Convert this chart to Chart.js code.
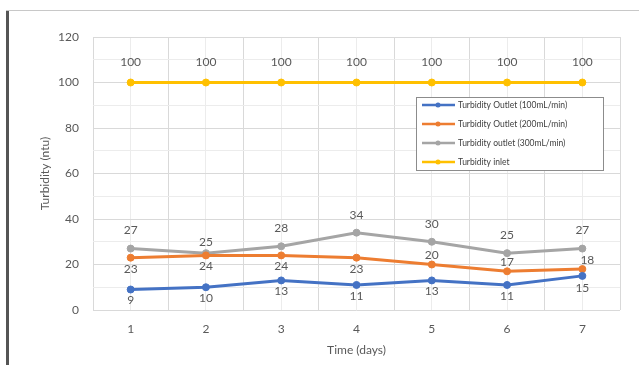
<!DOCTYPE html>
<html lang="en">
<head>
  <meta charset="UTF-8">
  <title>Turbidity</title>
  <script src="https://cdn.jsdelivr.net/npm/chart.js"></script>
  <style>
    html, body { margin: 0; padding: 0; background: #fff; }
    .frame { position: relative; width: 639px; height: 365px; overflow: hidden; }
    .edge { position: absolute; left: 6px; top: 10px; bottom: 0; width: 3px; background: #555; }
    .topline { position: absolute; left: 6px; right: 0; top: 10px; height: 1px; background: #c8c8c8; }
    canvas { position: absolute; left: 0; top: 0; }
  </style>
</head>
<body>
  <div class="frame">
    <canvas id="chart" width="639" height="365"></canvas>
    <div class="edge"></div>
    <div class="topline"></div>
  </div>

  <script>
    const days = [1, 2, 3, 4, 5, 6, 7];
    const outlet100 = [9, 10, 13, 11, 13, 11, 15];
    const outlet200 = [23, 24, 24, 23, 20, 17, 18];
    const outlet300 = [27, 25, 28, 34, 30, 25, 27];
    const inlet = [100, 100, 100, 100, 100, 100, 100];
    const seriesNames = ['Turbidity Outlet (100mL/min)', 'Turbidity Outlet (200mL/min)', 'Turbidity outlet (300mL/min)', 'Turbidity inlet'];

    const txt = '#595959';
    const fam = 'Lato, "Liberation Sans", sans-serif';

    function pts(vals) {
      return vals.map((v, i) => ({ x: days[i], y: v }));
    }

    // label offsets in px (negative = above the point)
    const labelOffsets = [
      [11, 11, 11, 11, 11, 11, 12],
      [11, 11, 11, 11, -9, -9, -9],
      [-18, -11, -18, -18, -18, -18, -18],
      [-20, -20, -20, -20, -20, -20, -20]
    ];

    const valueLabels = {
      id: 'valueLabels',
      afterDatasetsDraw(chart) {
        const ctx = chart.ctx;
        ctx.save();
        ctx.font = '12px ' + fam;
        ctx.fillStyle = txt;
        ctx.textAlign = 'center';
        ctx.textBaseline = 'middle';
        chart.data.datasets.forEach((ds, di) => {
          ds.data.forEach((p, i) => {
            const x = chart.scales.x.getPixelForValue(p.x);
            const y = chart.scales.y.getPixelForValue(p.y);
            const dx = (di === 1 && i === 6) ? 5 : 0;
            ctx.fillText(String(p.y), x + dx, y + labelOffsets[di][i]);
          });
        });
        ctx.restore();
      }
    };

    const boxLegend = {
      id: 'boxLegend',
      afterDraw(chart) {
        const ctx = chart.ctx;
        const bx = 416, by = 97, bw = 187, bh = 73;
        ctx.save();
        ctx.fillStyle = '#fff';
        ctx.fillRect(bx, by, bw, bh);
        ctx.strokeStyle = '#8c8c8c';
        ctx.lineWidth = 1;
        ctx.strokeRect(bx + 0.5, by + 0.5, bw, bh);
        ctx.font = '8.5px ' + fam;
        ctx.textBaseline = 'middle';
        chart.data.datasets.forEach((ds, i) => {
          const y = by + 8 + i * 19;
          ctx.strokeStyle = ds.borderColor;
          ctx.lineWidth = 2.5;
          ctx.beginPath();
          ctx.moveTo(bx + 6, y);
          ctx.lineTo(bx + 39, y);
          ctx.stroke();
          ctx.fillStyle = ds.borderColor;
          ctx.beginPath();
          ctx.arc(bx + 22, y, 2.5, 0, Math.PI * 2);
          ctx.fill();
          ctx.fillStyle = '#404040';
          ctx.fillText(ds.label, bx + 42, y);
        });
        ctx.restore();
      }
    };

    function line(label, vals, color) {
      return {
        label: label,
        data: pts(vals),
        borderColor: color,
        backgroundColor: color,
        borderWidth: 3,
        pointRadius: 3.5,
        pointBorderWidth: 1,
        pointHoverRadius: 3.5
      };
    }

    new Chart(document.getElementById('chart'), {
      type: 'line',
      data: {
        datasets: [
          line(seriesNames[0], outlet100, '#4472C4'),
          line(seriesNames[1], outlet200, '#ED7D31'),
          line(seriesNames[2], outlet300, '#A5A5A5'),
          line(seriesNames[3], inlet, '#FFC000')
        ]
      },
      options: {
        responsive: false,
        animation: false,
        layout: { padding: { left: 34, right: 19, top: 37, bottom: 4 } },
        plugins: { legend: { display: false }, tooltip: { enabled: false } },
        scales: {
          x: {
            type: 'linear',
            min: 0.5,
            max: 7.5,
            afterFit: s => { s.height = 51; },
            afterBuildTicks: s => {
              const t = [];
              for (let v = 0.5; v <= 7.5; v += 0.5) t.push({ value: v });
              s.ticks = t;
            },
            border: { display: false },
            grid: {
              drawTicks: false,
              color: c => (c.tick && Number.isInteger(c.tick.value)) ? '#ececec' : '#d9d9d9'
            },
            ticks: {
              padding: 12,
              color: txt,
              font: { family: fam, size: 12 },
              callback: v => Number.isInteger(v) ? v : ''
            },
            title: { display: true, text: 'Time (days)', color: txt, font: { family: fam, size: 12 }, padding: { top: 4 } }
          },
          y: {
            min: 0,
            max: 120,
            afterFit: s => { s.width = 59; },
            border: { display: false },
            grid: {
              drawTicks: false,
              color: c => (c.tick && c.tick.value % 20 === 0) ? '#d9d9d9' : '#ececec'
            },
            ticks: {
              stepSize: 10,
              padding: 14,
              color: txt,
              font: { family: fam, size: 12 },
              callback: v => v % 20 === 0 ? v : ''
            },
            title: { display: true, text: 'Turbidity (ntu)', color: txt, font: { family: fam, size: 12 } }
          }
        }
      },
      plugins: [valueLabels, boxLegend]
    });
  </script>
</body>
</html>
